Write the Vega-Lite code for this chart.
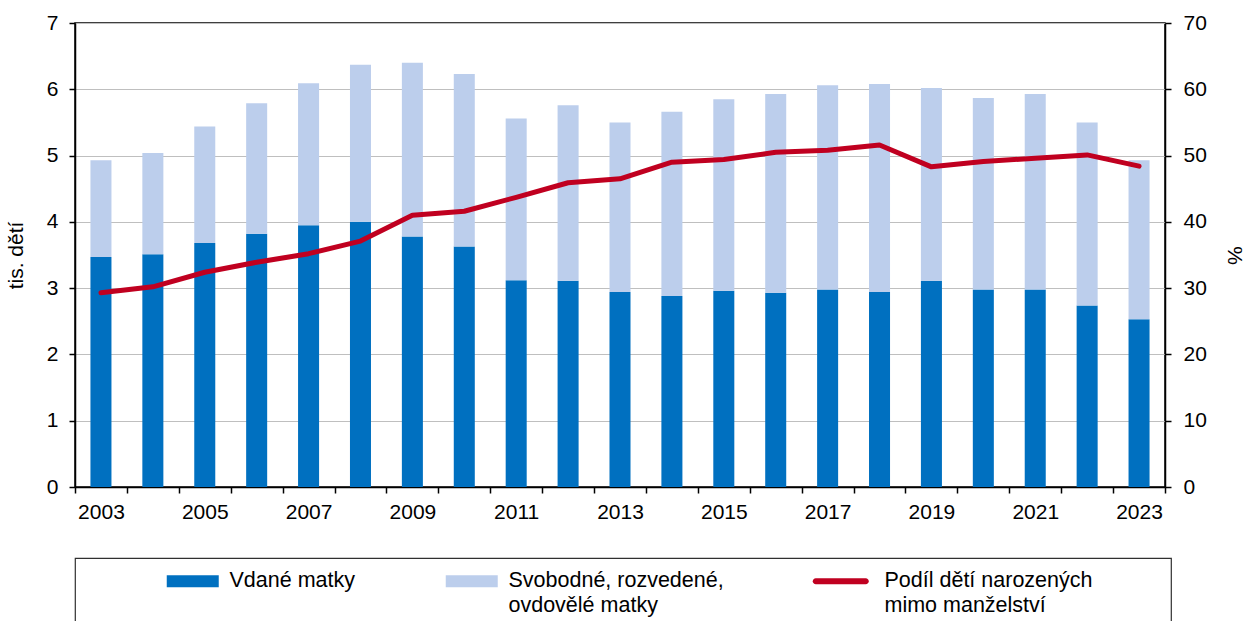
{
  "$schema": "https://vega.github.io/schema/vega-lite/v6.json",
  "width": 1090,
  "height": 464,
  "autosize": {"type": "none"},
  "padding": {"left": 75, "top": 23, "right": 83, "bottom": 134},
  "background": "white",
  "config": {
    "font": "Liberation Sans",
    "view": {"stroke": "black", "strokeWidth": 1.5},
    "axis": {
      "labelFont": "Liberation Sans",
      "labelFontSize": 21,
      "labelColor": "black",
      "titleFont": "Liberation Sans",
      "titleFontSize": 21,
      "titleFontWeight": "normal",
      "titleColor": "black",
      "domainColor": "black",
      "domainWidth": 1.5,
      "tickColor": "black",
      "tickWidth": 1.5,
      "tickSize": 6
    }
  },
  "datasets": {
    "bars": [
      {"rok": 2003, "typ": "Vdané matky", "pocet": 3.47},
      {"rok": 2003, "typ": "Svobodné, rozvedené, ovdovělé matky", "pocet": 1.46},
      {"rok": 2004, "typ": "Vdané matky", "pocet": 3.51},
      {"rok": 2004, "typ": "Svobodné, rozvedené, ovdovělé matky", "pocet": 1.53},
      {"rok": 2005, "typ": "Vdané matky", "pocet": 3.68},
      {"rok": 2005, "typ": "Svobodné, rozvedené, ovdovělé matky", "pocet": 1.76},
      {"rok": 2006, "typ": "Vdané matky", "pocet": 3.82},
      {"rok": 2006, "typ": "Svobodné, rozvedené, ovdovělé matky", "pocet": 1.97},
      {"rok": 2007, "typ": "Vdané matky", "pocet": 3.95},
      {"rok": 2007, "typ": "Svobodné, rozvedené, ovdovělé matky", "pocet": 2.14},
      {"rok": 2008, "typ": "Vdané matky", "pocet": 4.0},
      {"rok": 2008, "typ": "Svobodné, rozvedené, ovdovělé matky", "pocet": 2.37},
      {"rok": 2009, "typ": "Vdané matky", "pocet": 3.78},
      {"rok": 2009, "typ": "Svobodné, rozvedené, ovdovělé matky", "pocet": 2.62},
      {"rok": 2010, "typ": "Vdané matky", "pocet": 3.63},
      {"rok": 2010, "typ": "Svobodné, rozvedené, ovdovělé matky", "pocet": 2.6},
      {"rok": 2011, "typ": "Vdané matky", "pocet": 3.12},
      {"rok": 2011, "typ": "Svobodné, rozvedené, ovdovělé matky", "pocet": 2.44},
      {"rok": 2012, "typ": "Vdané matky", "pocet": 3.11},
      {"rok": 2012, "typ": "Svobodné, rozvedené, ovdovělé matky", "pocet": 2.65},
      {"rok": 2013, "typ": "Vdané matky", "pocet": 2.94},
      {"rok": 2013, "typ": "Svobodné, rozvedené, ovdovělé matky", "pocet": 2.56},
      {"rok": 2014, "typ": "Vdané matky", "pocet": 2.88},
      {"rok": 2014, "typ": "Svobodné, rozvedené, ovdovělé matky", "pocet": 2.78},
      {"rok": 2015, "typ": "Vdané matky", "pocet": 2.96},
      {"rok": 2015, "typ": "Svobodné, rozvedené, ovdovělé matky", "pocet": 2.89},
      {"rok": 2016, "typ": "Vdané matky", "pocet": 2.93},
      {"rok": 2016, "typ": "Svobodné, rozvedené, ovdovělé matky", "pocet": 3.0},
      {"rok": 2017, "typ": "Vdané matky", "pocet": 2.98},
      {"rok": 2017, "typ": "Svobodné, rozvedené, ovdovělé matky", "pocet": 3.08},
      {"rok": 2018, "typ": "Vdané matky", "pocet": 2.94},
      {"rok": 2018, "typ": "Svobodné, rozvedené, ovdovělé matky", "pocet": 3.14},
      {"rok": 2019, "typ": "Vdané matky", "pocet": 3.11},
      {"rok": 2019, "typ": "Svobodné, rozvedené, ovdovělé matky", "pocet": 2.91},
      {"rok": 2020, "typ": "Vdané matky", "pocet": 2.98},
      {"rok": 2020, "typ": "Svobodné, rozvedené, ovdovělé matky", "pocet": 2.89},
      {"rok": 2021, "typ": "Vdané matky", "pocet": 2.98},
      {"rok": 2021, "typ": "Svobodné, rozvedené, ovdovělé matky", "pocet": 2.95},
      {"rok": 2022, "typ": "Vdané matky", "pocet": 2.74},
      {"rok": 2022, "typ": "Svobodné, rozvedené, ovdovělé matky", "pocet": 2.76},
      {"rok": 2023, "typ": "Vdané matky", "pocet": 2.53},
      {"rok": 2023, "typ": "Svobodné, rozvedené, ovdovělé matky", "pocet": 2.4}
    ],
    "line": [
      {"rok": 2003, "podil": 29.3},
      {"rok": 2004, "podil": 30.2},
      {"rok": 2005, "podil": 32.4},
      {"rok": 2006, "podil": 33.9},
      {"rok": 2007, "podil": 35.2},
      {"rok": 2008, "podil": 37.1},
      {"rok": 2009, "podil": 41.0},
      {"rok": 2010, "podil": 41.6},
      {"rok": 2011, "podil": 43.7},
      {"rok": 2012, "podil": 45.9},
      {"rok": 2013, "podil": 46.5},
      {"rok": 2014, "podil": 49.0},
      {"rok": 2015, "podil": 49.4},
      {"rok": 2016, "podil": 50.5},
      {"rok": 2017, "podil": 50.8},
      {"rok": 2018, "podil": 51.6},
      {"rok": 2019, "podil": 48.3},
      {"rok": 2020, "podil": 49.1},
      {"rok": 2021, "podil": 49.6},
      {"rok": 2022, "podil": 50.1},
      {"rok": 2023, "podil": 48.4}
    ]
  },
  "layer": [
    {
      "data": {"name": "bars"},
      "mark": {"type": "bar", "width": {"band": 0.405}},
      "encoding": {
        "x": {
          "field": "rok",
          "type": "ordinal",
          "scale": {"paddingInner": 0, "paddingOuter": 0},
          "axis": {
            "title": null,
            "labelAngle": 0,
            "tickBand": "extent",
            "grid": false,
            "labelPadding": 8,
            "labelExpr": "datum.value % 2 == 1 ? datum.label : ''"
          }
        },
        "y": {
          "field": "pocet",
          "type": "quantitative",
          "stack": "zero",
          "scale": {"domain": [0, 7], "nice": false},
          "axis": {
            "title": "tis. dětí",
            "values": [0, 1, 2, 3, 4, 5, 6, 7],
            "grid": true,
            "gridColor": "#BFBFBF",
            "gridWidth": 1,
            "labelPadding": 11,
            "titlePadding": 20
          }
        },
        "color": {
          "field": "typ",
          "type": "nominal",
          "scale": {
            "domain": ["Vdané matky", "Svobodné, rozvedené, ovdovělé matky", "Podíl dětí narozených mimo manželství"],
            "range": ["#0070C0", "#BCCEEC", "#C00020"]
          },
          "legend": {
            "orient": "none",
            "legendX": 0,
            "legendY": 535,
            "direction": "horizontal",
            "columns": 3,
            "title": "\u00a0",
            "titleOrient": "right",
            "titlePadding": 67,
            "titleFontSize": 8,
            "strokeColor": "#303030",
            "padding": 12,
            "symbolSize": 144,
            "symbolOffset": 95,
            "labelOffset": 26,
            "columnPadding": 11,
            "labelFont": "Liberation Sans",
            "labelFontSize": 21.5,
            "labelColor": "black",
            "labelLimit": 500,
            "labelBaseline": "alphabetic",
            "labelExpr": "datum.label == 'Svobodné, rozvedené, ovdovělé matky' ? ['Svobodné, rozvedené,', 'ovdovělé matky'] : datum.label == 'Podíl dětí narozených mimo manželství' ? ['Podíl dětí narozených', 'mimo manželství'] : [datum.label, '']",
            "encode": {
              "symbols": {
                "update": {
                  "shape": {"signal": "datum.value == 'Podíl dětí narozených mimo manželství' ? 'M-4.167,-0.5L4.167,-0.5A0.5,0.5 0 0 1 4.167,0.5L-4.167,0.5A0.5,0.5 0 0 1 -4.167,-0.5Z' : 'M-4.333,-1L4.333,-1L4.333,1L-4.333,1Z'"},
                  "fill": {"signal": "scale('color', datum.value)"},
                  "stroke": {"value": "transparent"},
                  "strokeWidth": {"value": 0},
                  "opacity": {"value": 1}
                }
              },
              "labels": {
                "update": {
                  "dy": {"value": 6},
                  "dx": {"signal": "datum.value == 'Podíl dětí narozených mimo manželství' ? 7 : 0"},
                  "lineHeight": {"value": 25}
                }
              },
              "legend": {
                "update": {"strokeWidth": {"value": 1.2}}
              }
            }
          }
        },
        "order": {"field": "typ", "sort": "descending"}
      }
    },
    {
      "data": {"name": "line"},
      "mark": {"type": "line", "strokeWidth": 5, "strokeCap": "round", "strokeJoin": "round"},
      "encoding": {
        "x": {"field": "rok", "type": "ordinal"},
        "y": {
          "field": "podil",
          "type": "quantitative",
          "scale": {"domain": [0, 70], "nice": false},
          "axis": {
            "orient": "right",
            "title": "%",
            "values": [0, 10, 20, 30, 40, 50, 60, 70],
            "grid": false,
            "labelPadding": 12,
            "titlePadding": 17
          }
        },
        "color": {"datum": "Podíl dětí narozených mimo manželství"}
      }
    }
  ],
  "resolve": {"scale": {"y": "independent"}}
}
